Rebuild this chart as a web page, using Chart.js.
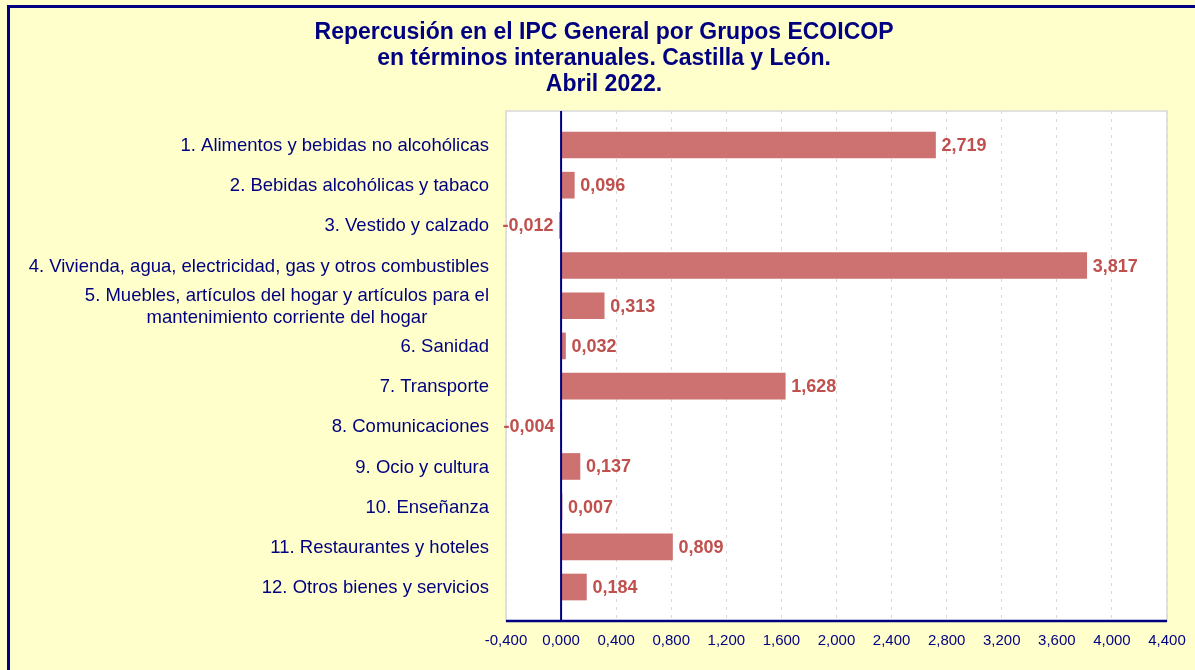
<!DOCTYPE html>
<html>
<head>
<meta charset="utf-8">
<script src="https://cdn.jsdelivr.net/npm/chart.js@4"></script>
<style>
  html, body { margin: 0; padding: 0; background: #ffffcc; overflow: hidden; }
  #frame {
    position: absolute; left: 7px; top: 5px; width: 1400px; height: 900px;
    border-left: 3px solid #000080; border-top: 3px solid #000080;
  }
  #chart { position: absolute; left: 0; top: 0; }
</style>
</head>
<body>
<div id="frame"></div>
<canvas id="chart" width="1195" height="670"></canvas>
<script>
'use strict';

const titleLines = [
  'Repercusión en el IPC General por Grupos ECOICOP',
  'en términos interanuales. Castilla y León.',
  'Abril 2022.',
];

const categories = [
  ['1. Alimentos y bebidas no alcohólicas'],
  ['2. Bebidas alcohólicas y tabaco'],
  ['3. Vestido y calzado'],
  ['4. Vivienda, agua, electricidad, gas y otros combustibles'],
  ['5. Muebles, artículos del hogar y artículos para el', 'mantenimiento corriente del hogar'],
  ['6. Sanidad'],
  ['7. Transporte'],
  ['8. Comunicaciones'],
  ['9. Ocio y cultura'],
  ['10. Enseñanza'],
  ['11. Restaurantes y hoteles'],
  ['12. Otros bienes y servicios'],
];

const values = [2.719, 0.096, -0.012, 3.817, 0.313, 0.032, 1.628, -0.004, 0.137, 0.007, 0.809, 0.184];

const xTicks = [-0.4, 0, 0.4, 0.8, 1.2, 1.6, 2.0, 2.4, 2.8, 3.2, 3.6, 4.0, 4.4];

const NAVY = '#000080';
const BAR = '#cd7171';
const LABEL_RED = '#c0504d';
const FONT = "'Liberation Sans', Arial, sans-serif";

const fmt = (v) => Number(v).toFixed(3).replace('.', ',');

// white plot area, border, axis/zero lines, value labels and category labels
const decor = {
  id: 'decor',
  beforeDraw(chart) {
    const { ctx, chartArea: a } = chart;
    ctx.save();
    ctx.fillStyle = '#ffffff';
    ctx.fillRect(a.left, a.top, a.right - a.left, a.bottom - a.top);
    ctx.restore();
  },
  beforeDatasetsDraw(chart) {
    const { ctx, chartArea: a } = chart;
    ctx.save();
    ctx.strokeStyle = '#d9d9d9';
    ctx.lineWidth = 1.5;
    ctx.strokeRect(a.left, a.top, a.right - a.left, a.bottom - a.top);
    ctx.restore();
  },
  afterDatasetsDraw(chart) {
    const { ctx, chartArea: a, scales } = chart;
    const x0 = scales.x.getPixelForValue(0);
    ctx.save();
    ctx.strokeStyle = NAVY;
    ctx.lineWidth = 2;
    ctx.beginPath();
    ctx.moveTo(x0, a.top);
    ctx.lineTo(x0, a.bottom);
    ctx.stroke();
    ctx.lineWidth = 2.5;
    ctx.beginPath();
    ctx.moveTo(a.left, a.bottom);
    ctx.lineTo(a.right, a.bottom);
    ctx.stroke();

    ctx.font = 'bold 18px ' + FONT;
    ctx.fillStyle = LABEL_RED;
    ctx.textBaseline = 'middle';
    chart.getDatasetMeta(0).data.forEach((bar, i) => {
      const v = values[i];
      if (v >= 0) {
        ctx.textAlign = 'left';
        ctx.fillText(fmt(v), bar.x + 6, bar.y + 1);
      } else {
        ctx.textAlign = 'right';
        ctx.fillText(fmt(v), bar.x - 6, bar.y + 1);
      }
    });

    // category labels (multi-line ones centred on each other, like the original)
    const right = a.left - 17;
    ctx.font = '18.5px ' + FONT;
    ctx.fillStyle = NAVY;
    categories.forEach((lines, i) => {
      const y = scales.y.getPixelForValue(i);
      const lh = 22;
      const w = Math.max(...lines.map((l) => ctx.measureText(l).width));
      const y0 = y - (lines.length - 1) * lh / 2 + 1;
      lines.forEach((l, k) => {
        if (lines.length > 1) {
          ctx.textAlign = 'center';
          ctx.fillText(l, right - w / 2, y0 + k * lh);
        } else {
          ctx.textAlign = 'right';
          ctx.fillText(l, right, y0);
        }
      });
    });
    ctx.restore();
  },
};

new Chart(document.getElementById('chart'), {
  type: 'bar',
  data: {
    datasets: [{
      data: values.map((v, i) => ({ x: v, y: i })),
      backgroundColor: BAR,
      borderWidth: 0,
      barThickness: 26,
    }],
  },
  plugins: [decor],
  options: {
    indexAxis: 'y',
    responsive: false,
    animation: false,
    events: [],
    layout: { padding: { left: 41, right: 28, top: 0, bottom: 0 } },
    plugins: {
      legend: { display: false },
      tooltip: { enabled: false },
      title: {
        display: true,
        text: titleLines,
        color: NAVY,
        font: { family: FONT, size: 23, weight: 'bold', lineHeight: 26 / 23 },
        padding: { top: 20, bottom: 13 },
      },
    },
    scales: {
      x: {
        type: 'linear',
        min: xTicks[0],
        max: xTicks[xTicks.length - 1],
        afterBuildTicks: (s) => { s.ticks = xTicks.map((v) => ({ value: v })); },
        afterFit: (s) => { s.height = 49; s.paddingLeft = 0; s.paddingRight = 0; },
        grid: { color: '#d9d9d9', lineWidth: 1, drawTicks: false },
        border: { display: false, dash: [3, 5] },
        ticks: {
          color: NAVY,
          padding: 11,
          font: { family: FONT, size: 15 },
          autoSkip: false,
          maxRotation: 0,
          callback: (v) => fmt(v),
        },
      },
      y: {
        type: 'linear',
        reverse: true,
        offset: false,
        min: -0.846,
        max: categories.length - 1 + 0.846,
        afterBuildTicks: (s) => { s.ticks = categories.map((c, i) => ({ value: i })); },
        afterFit: (s) => { s.width = 465; s.paddingTop = 0; s.paddingBottom = 0; },
        grid: { display: false },
        border: { display: false },
        ticks: { display: false },
      },
    },
  },
});
</script>
</body>
</html>
